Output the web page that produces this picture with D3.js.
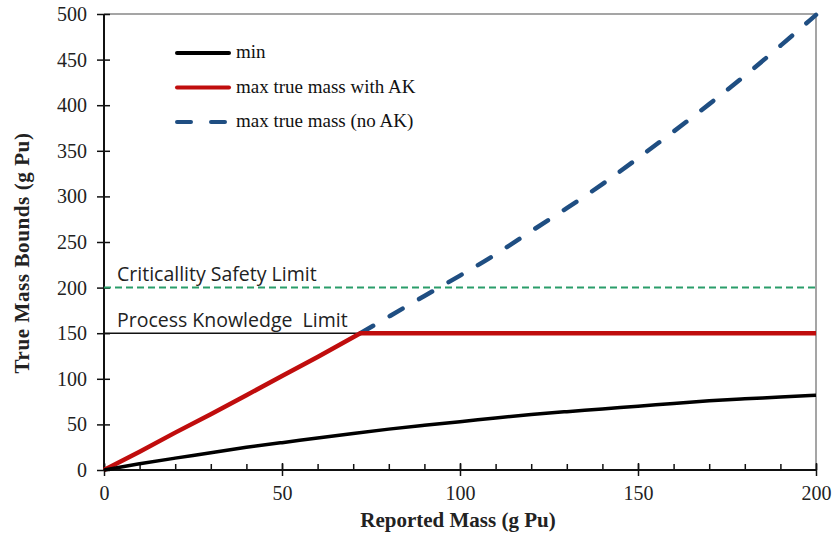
<!DOCTYPE html>
<html>
<head>
<style>
  body { margin: 0; background: #fff; }
  svg { display: block; }
</style>
</head>
<body>
<svg id="chart" width="833" height="541"></svg>
<script src="https://cdn.jsdelivr.net/npm/d3@7"></script>
<script>
// data
const minX = [0, 10, 20, 30, 40, 50, 60, 70, 80, 90, 100, 110, 120, 130, 140, 150, 160, 170, 180, 190, 200];
const minY = [0, 7, 13, 19, 25, 30, 35, 40, 45, 49, 53, 57, 61, 64, 67, 70, 73, 76, 78, 80, 82];

const akX = [0, 10, 20, 30, 40, 50, 60, 72, 200];
const akY = [0, 20, 41, 61, 82, 103, 124, 150, 150];

const noAkX = [72, 80, 90, 100, 110, 120, 130, 140, 150, 160, 170, 180, 190, 200];
const noAkY = [150, 168, 191, 213, 236, 262, 287, 313, 342, 371, 401, 432, 465, 499];

const processLimit = 150;
const safetyLimit = 200;

const xTicks = [0, 50, 100, 150, 200];
const yTicks = [0, 50, 100, 150, 200, 250, 300, 350, 400, 450, 500];

const legendNames = ["min", "max true mass with AK", "max true mass (no AK)"];

const svg = d3.select("#chart");
const mLeft = 104, mRight = 816, mTop = 14, mBottom = 470;

const x = d3.scaleLinear().domain([0, 200]).range([mLeft, mRight]);
const y = d3.scaleLinear().domain([0, 500]).range([mBottom, mTop]);

const serif = "'Liberation Serif', 'Times New Roman', serif";
const sans = "'Open Sans', 'DejaVu Sans', sans-serif";

// frame (top/right)
svg.append("path")
    .attr("d", `M${mLeft},${mTop}H${mRight}V${mBottom}`)
    .attr("fill", "none")
    .attr("stroke", "#888")
    .attr("stroke-width", 1.5);

// x axis
const xAxis = svg.append("g").attr("transform", `translate(0,${mBottom})`);
xAxis.call(d3.axisBottom(x).tickValues(d3.range(0, 201, 10)).tickSize(-6).tickFormat(""))
    .call(g => g.select(".domain").remove())
    .selectAll("line").attr("stroke", "#111").attr("stroke-width", 1.5);
xAxis.append("g").call(d3.axisBottom(x).tickValues(xTicks).tickSize(6).tickPadding(10))
    .call(g => g.select(".domain").remove())
    .call(g => g.selectAll("line").attr("stroke", "#111").attr("stroke-width", 1.5).attr("y1", -7))
    .call(g => g.selectAll("text").attr("font-family", serif).attr("font-size", 20).attr("fill", "#222"));
xAxis.append("line").attr("x1", mLeft - 1).attr("x2", mRight).attr("stroke", "#111").attr("stroke-width", 2);

// y axis
const yAxis = svg.append("g").attr("transform", `translate(${mLeft},0)`);
yAxis.call(d3.axisLeft(y).tickValues(yTicks).tickSize(7).tickPadding(10))
    .call(g => g.select(".domain").remove())
    .call(g => g.selectAll("line").attr("stroke", "#111").attr("stroke-width", 1.5).attr("x1", 6))
    .call(g => g.selectAll("text").attr("font-family", serif).attr("font-size", 20).attr("fill", "#222"));
yAxis.append("line").attr("y1", mTop).attr("y2", mBottom + 1).attr("stroke", "#111").attr("stroke-width", 2);

// limit lines
svg.append("line")
    .attr("x1", x(0)).attr("x2", x(200))
    .attr("y1", y(safetyLimit)).attr("y2", y(safetyLimit))
    .attr("stroke", "#2a9d6a").attr("stroke-width", 2).attr("stroke-dasharray", "7,4");
svg.append("line")
    .attr("x1", x(0)).attr("x2", x(200))
    .attr("y1", y(processLimit)).attr("y2", y(processLimit))
    .attr("stroke", "#111").attr("stroke-width", 1.5);

svg.append("text").attr("x", 117).attr("y", 281)
    .attr("font-family", sans).attr("font-size", 19.5).attr("fill", "#222")
    .text("Criticallity Safety Limit");
svg.append("text").attr("x", 117).attr("y", 327)
    .attr("font-family", sans).attr("font-size", 19.5).attr("fill", "#222")
    .style("white-space", "pre")
    .text("Process Knowledge  Limit");

const smooth = d3.line().x(d => x(d[0])).y(d => y(d[1])).curve(d3.curveBasis);

svg.append("path")
    .datum(noAkX.map((v, i) => [v, noAkY[i]]))
    .attr("d", smooth)
    .attr("fill", "none").attr("stroke", "#1f4e82").attr("stroke-width", 4.5)
    .attr("stroke-linecap", "round").attr("stroke-dasharray", "15,19");

svg.append("path")
    .datum(akX.map((v, i) => [v, akY[i]]))
    .attr("d", d3.line().x(d => x(d[0])).y(d => y(d[1])))
    .attr("fill", "none").attr("stroke", "#c00d0d").attr("stroke-width", 4.5);

svg.append("path")
    .datum(minX.map((v, i) => [v, minY[i]]))
    .attr("d", smooth)
    .attr("fill", "none").attr("stroke", "#000").attr("stroke-width", 3.5);

// legend
const legendStyles = [
  {stroke: "#000", dash: null},
  {stroke: "#c00d0d", dash: null},
  {stroke: "#1f4e82", dash: "14,20"}
];
const legend = svg.append("g");
legendNames.forEach((name, i) => {
  const ly = 53 + i * 34.5;
  legend.append("line")
      .attr("x1", 177).attr("x2", 229).attr("y1", ly).attr("y2", ly)
      .attr("stroke", legendStyles[i].stroke).attr("stroke-width", 4)
      .attr("stroke-linecap", "round")
      .attr("stroke-dasharray", legendStyles[i].dash);
  legend.append("text")
      .attr("x", 236).attr("y", ly + 5)
      .attr("font-family", serif).attr("font-size", 19).attr("fill", "#111")
      .text(name);
});

// axis titles
svg.append("text")
    .attr("x", 458).attr("y", 527)
    .attr("text-anchor", "middle")
    .attr("font-family", serif).attr("font-size", 21).attr("font-weight", "bold").attr("fill", "#222")
    .text("Reported Mass (g Pu)");
svg.append("text")
    .attr("transform", `translate(29,253) rotate(-90)`)
    .attr("text-anchor", "middle")
    .attr("font-family", serif).attr("font-size", 21).attr("font-weight", "bold").attr("fill", "#222")
    .attr("letter-spacing", 0.6)
    .text("True Mass Bounds (g Pu)");
</script>
</body>
</html>
